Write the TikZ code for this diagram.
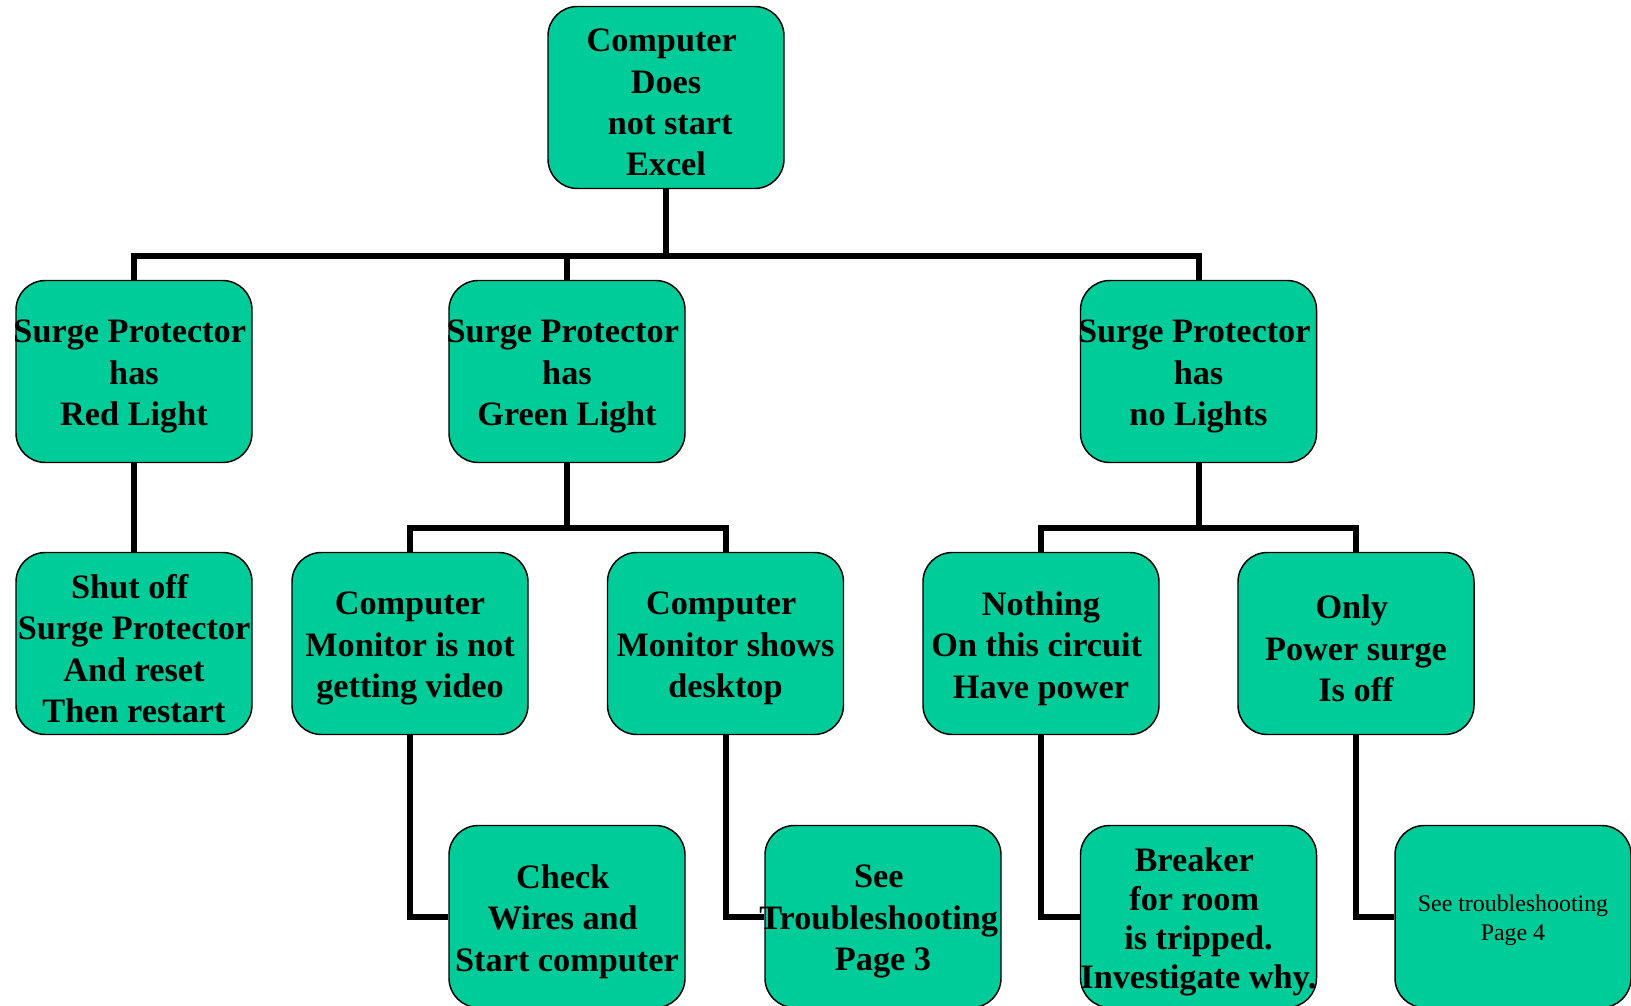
\documentclass[tikz,border=0pt]{standalone}
\usepackage{fontspec}
\setmainfont{Liberation Serif}
\definecolor{boxgreen}{RGB}{0,204,153}
\newcommand{\tsp}{\kern6.4pt}
\tikzset{
  txt/.style={align=center, inner sep=0pt, yshift=-3.8pt,
    font=\fontsize{25.7}{31}\selectfont\bfseries},
  box/.style={draw=black, line width=1.1pt, fill=boxgreen, rounded corners=22pt,
    minimum width=177pt, minimum height=136.5pt, inner sep=0pt,
    label={[txt]center:{#1}}},
  conn/.style={draw=black, line width=4.5pt}
}
\begin{document}
\begin{tikzpicture}[x=0.75pt,y=-0.75pt]
\clip (0,0) rectangle (1631,1006);
\fill[white] (0,0) rectangle (1631,1006);
\coordinate (bus) at (666,256);
\coordinate (gbus) at (567,528);
\coordinate (nbus) at (1198.5,528);
\node[box={Computer\tsp\\Does\\\tsp not start\\Excel}] (root) at (666,97.5) {};
\node[box={Surge Protector\tsp\\has\\Red Light}] (red) at (134,371.5) {};
\node[box={Surge Protector\tsp\\has\\Green Light}] (green) at (567,371.5) {};
\node[box={Surge Protector\tsp\\has\\no Lights}] (nolight) at (1198.5,371.5) {};
\node[box={Shut off\tsp\\Surge Protector\\And reset\\Then restart}] (shut) at (134,643.5) {};
\node[box={Computer\\Monitor is not\\getting video}] (nvid) at (410,643.5) {};
\node[box={Computer\tsp\\Monitor shows\\desktop}] (desk) at (725.5,643.5) {};
\node[box={Nothing\\On this circuit\tsp\\Have power}] (nothing) at (1041,643.5) {};
\node[box={Only\tsp\\Power surge\\Is off}] (only) at (1356,643.5) {};
\node[box={Check\tsp\\Wires and\tsp\\Start computer}] (check) at (567,916.5) {};
\node[box={See\tsp\\Troubleshooting\tsp\\Page 3}] (see3) at (883,916.5) {};
\node[box={}, label={[txt, font=\fontsize{25.7}{29.3}\selectfont\bfseries]center:{Breaker\tsp\\for room\tsp\\is tripped.\\Investigate why.}}] (breaker) at (1198.5,916.5) {};
\node[box={}, label={[txt, yshift=1pt, font=\fontsize{17.9}{21.3}\selectfont]center:{See troubleshooting\\Page 4}}] (see4) at (1513,916.5) {};
\draw[conn] (root.south) -- (bus);
\draw[conn] (red.north) |- (bus) -| (nolight.north);
\draw[conn] (green.north) -- (green.north |- bus);
\draw[conn] (red.south) -- (shut.north);
\draw[conn] (green.south) -- (gbus);
\draw[conn] (nvid.north) |- (gbus) -| (desk.north);
\draw[conn] (nolight.south) -- (nbus);
\draw[conn] (nothing.north) |- (nbus) -| (only.north);
\draw[conn] (nvid.south) |- (check.west);
\draw[conn] (desk.south) |- (see3.west);
\draw[conn] (nothing.south) |- (breaker.west);
\draw[conn] (only.south) |- (see4.west);
\end{tikzpicture}
\end{document}
